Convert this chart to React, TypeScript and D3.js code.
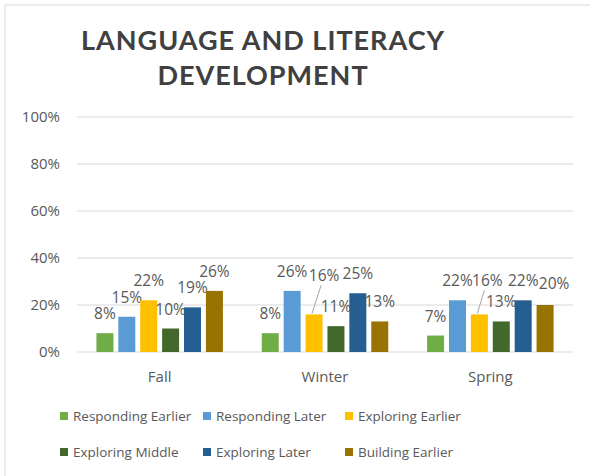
import React from 'react'
import * as d3 from 'd3'

const categories = ['Fall', 'Winter', 'Spring']
const series = ['Responding Earlier', 'Responding Later', 'Exploring Earlier', 'Exploring Middle', 'Exploring Later', 'Building Earlier']
const colors = ['#70AD47', '#5B9BD5', '#FFC000', '#43682B', '#255E91', '#997300']
const respondingEarlier = [0.08, 0.08, 0.07]
const respondingLater = [0.15, 0.26, 0.22]
const exploringEarlier = [0.22, 0.16, 0.16]
const exploringMiddle = [0.10, 0.11, 0.13]
const exploringLater = [0.19, 0.25, 0.22]
const buildingEarlier = [0.26, 0.13, 0.20]
const yTicks = [0, 0.2, 0.4, 0.6, 0.8, 1]

const values = [respondingEarlier, respondingLater, exploringEarlier, exploringMiddle, exploringLater, buildingEarlier]

// labels that Excel moved off their default spot (dx, dy, leader line)
const labelNudge: Record<string, [number, number, boolean]> = {
  'Winter|Exploring Earlier': [10, -19, true],
  'Spring|Exploring Earlier': [8, -14, true],
  'Spring|Building Earlier': [9, -2, false],
}

const App = () => {
  const width = 590
  const height = 476
  const font = '"Open Sans", sans-serif'
  const textColor = '#595959'

  const x = d3.scaleBand().domain(categories).range([77, 573])
  const xs = d3.scaleBand().domain(series).range([0, x.bandwidth()]).paddingInner(0.224).paddingOuter(0.887)
  const y = d3.scaleLinear().domain([0, 1]).range([352, 117])
  const fmt = d3.format('.0%')

  const legendCols = [60, 203, 345]
  const legendRows = [416, 452]

  return (
    <svg width={width} height={height} style={{ position: 'absolute', left: 0, top: 0, background: '#fff' }}>
      <line x1={5} x2={width} y1={5} y2={5} stroke="#D9D9D9" />
      <line x1={5} x2={5} y1={5} y2={height} stroke="#D9D9D9" />

      <g fontFamily="Lato, sans-serif" fontWeight={700} fontSize={27} fill="#404040" textAnchor="middle" letterSpacing={1}>
        <text x={263} y={50}>LANGUAGE AND LITERACY</text>
        <text x={263} y={85}>DEVELOPMENT</text>
      </g>

      {yTicks.map(t => (
        <g key={t}>
          <line x1={77} x2={573} y1={y(t)} y2={y(t)} stroke="#D9D9D9" strokeWidth={1} />
          <text x={60} y={y(t)} dy="0.35em" textAnchor="end" fontFamily={font} fontSize={15} fill={textColor}>{fmt(t)}</text>
        </g>
      ))}

      {categories.map((c, ci) => (
        <g key={c} transform={`translate(${x(c)},0)`}>
          {series.map((s, si) => {
            const v = values[si][ci]
            const bx = xs(s) as number
            const bw = xs.bandwidth()
            const nudge = labelNudge[`${c}|${s}`] || [0, 0, false]
            const lx = bx + bw / 2 + nudge[0]
            const ly = y(v) - 14 + nudge[1]
            return (
              <g key={s}>
                <rect x={bx} y={y(v)} width={bw} height={y(0) - y(v)} fill={colors[si]} />
                {nudge[2] && (
                  <line x1={bx + bw / 2 - 2} y1={y(v) - 1} x2={lx - 3} y2={ly + 4} stroke="#A6A6A6" strokeWidth={1} />
                )}
                <text x={lx} y={ly} textAnchor="middle" fontFamily={font} fontSize={15.5} fill={textColor}>{fmt(v)}</text>
              </g>
            )
          })}
          <text x={x.bandwidth() / 2} y={382} textAnchor="middle" fontFamily={font} fontSize={15} fill={textColor}>{c}</text>
        </g>
      ))}

      {series.map((s, i) => {
        const lx = legendCols[i % 3]
        const ly = legendRows[Math.floor(i / 3)]
        return (
          <g key={s}>
            <rect x={lx} y={ly - 4} width={8} height={8} fill={colors[i]} />
            <text x={lx + 13} y={ly} dy="0.35em" fontFamily={font} fontSize={13.5} fill={textColor}>{s}</text>
          </g>
        )
      })}
    </svg>
  )
}

export default App
